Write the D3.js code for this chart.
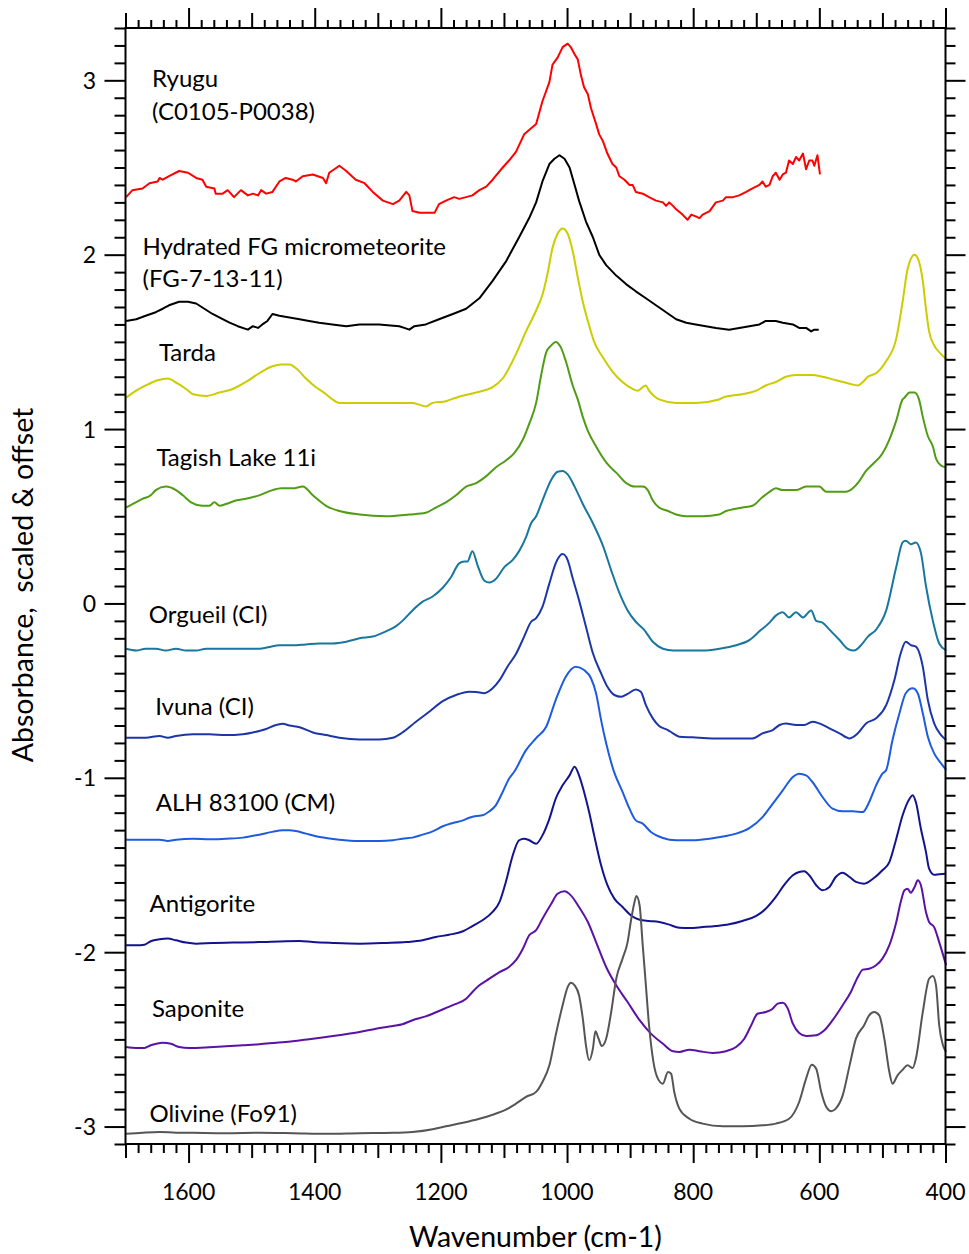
<!DOCTYPE html>
<html><head><meta charset="utf-8">
<script src="https://cdn.jsdelivr.net/npm/d3@7"></script>
<style>
html,body{margin:0;padding:0;background:#fff;}
svg text{font-family:Lato,"Noto Sans",sans-serif;fill:#000;}
</style></head>
<body><svg id="c" width="969" height="1254"></svg>
<script>
// ---- data: [wavenumber (cm-1), absorbance scaled & offset] ----
const ryugu = [[1699,2.33],[1689,2.37],[1673,2.38],[1662,2.41],[1649,2.42],[1646,2.44],[1641,2.43],[1631,2.45],[1615,2.48],[1601,2.47],[1588,2.44],[1578,2.43],[1572,2.39],[1559,2.38],[1557,2.35],[1546,2.35],[1538,2.37],[1528,2.33],[1517,2.37],[1506,2.34],[1498,2.35],[1490,2.34],[1485,2.37],[1477,2.35],[1467,2.36],[1456,2.42],[1446,2.44],[1435,2.43],[1430,2.42],[1419,2.45],[1403,2.46],[1395,2.45],[1387,2.44],[1382,2.41],[1377,2.47],[1361,2.51],[1350,2.48],[1335,2.43],[1321,2.41],[1308,2.36],[1292,2.31],[1276,2.29],[1266,2.31],[1255,2.36],[1250,2.34],[1245,2.25],[1234,2.24],[1224,2.24],[1210,2.24],[1203,2.29],[1192,2.31],[1179,2.33],[1171,2.32],[1160,2.33],[1150,2.34],[1139,2.37],[1128,2.39],[1118,2.43],[1102,2.50],[1092,2.54],[1081,2.59],[1068,2.69],[1049,2.75],[1039,2.88],[1028,2.99],[1023,3.09],[1015,3.13],[1007,3.19],[999,3.21],[994,3.19],[988,3.15],[983,3.12],[978,3.03],[973,2.96],[967,2.92],[962,2.84],[954,2.75],[949,2.69],[943,2.65],[936,2.58],[928,2.52],[922,2.50],[917,2.45],[909,2.43],[901,2.40],[896,2.40],[891,2.36],[880,2.35],[870,2.33],[859,2.31],[848,2.30],[843,2.28],[838,2.30],[832,2.28],[827,2.26],[817,2.23],[809,2.20],[803,2.23],[796,2.22],[790,2.21],[785,2.23],[774,2.25],[764,2.30],[753,2.31],[748,2.33],[737,2.33],[727,2.34],[716,2.36],[706,2.38],[695,2.40],[690,2.42],[685,2.39],[679,2.40],[674,2.45],[669,2.47],[663,2.43],[658,2.46],[653,2.47],[648,2.54],[642,2.52],[637,2.56],[632,2.54],[626,2.58],[621,2.49],[616,2.54],[611,2.54],[608,2.51],[603,2.57],[599,2.46]];
const fgMicrometeorite = [[1699,1.62],[1683,1.63],[1668,1.65],[1652,1.67],[1641,1.69],[1631,1.71],[1615,1.73],[1601,1.73],[1588,1.72],[1575,1.69],[1562,1.66],[1546,1.63],[1535,1.61],[1522,1.59],[1506,1.57],[1498,1.59],[1490,1.58],[1483,1.60],[1475,1.62],[1467,1.66],[1456,1.65],[1440,1.64],[1424,1.63],[1409,1.62],[1393,1.61],[1372,1.60],[1350,1.59],[1329,1.60],[1298,1.60],[1266,1.59],[1258,1.58],[1250,1.57],[1242,1.59],[1224,1.60],[1203,1.63],[1181,1.66],[1160,1.69],[1139,1.75],[1118,1.85],[1097,1.96],[1076,2.10],[1060,2.21],[1049,2.30],[1039,2.42],[1028,2.52],[1020,2.55],[1012,2.57],[1004,2.55],[996,2.50],[988,2.40],[981,2.31],[970,2.19],[959,2.10],[949,2.00],[938,1.94],[922,1.88],[906,1.83],[891,1.79],[875,1.75],[859,1.71],[843,1.67],[827,1.63],[811,1.61],[796,1.60],[780,1.59],[764,1.58],[743,1.57],[727,1.58],[711,1.59],[695,1.60],[685,1.62],[669,1.62],[658,1.61],[642,1.60],[632,1.58],[621,1.58],[613,1.56],[608,1.57],[601,1.57]];
const tarda = [[1699,1.18],[1683,1.22],[1668,1.25],[1649,1.28],[1633,1.29],[1617,1.26],[1604,1.23],[1593,1.20],[1572,1.19],[1551,1.21],[1530,1.23],[1509,1.27],[1488,1.32],[1467,1.36],[1453,1.37],[1440,1.37],[1427,1.34],[1414,1.29],[1398,1.24],[1382,1.20],[1372,1.17],[1361,1.15],[1329,1.15],[1276,1.15],[1245,1.15],[1224,1.13],[1213,1.15],[1192,1.16],[1176,1.18],[1144,1.21],[1118,1.24],[1102,1.29],[1081,1.43],[1065,1.56],[1049,1.68],[1039,1.77],[1031,1.89],[1023,2.04],[1015,2.12],[1007,2.15],[999,2.12],[991,2.02],[983,1.87],[975,1.73],[967,1.62],[957,1.50],[943,1.41],[928,1.33],[912,1.27],[896,1.23],[888,1.22],[880,1.24],[875,1.25],[870,1.22],[862,1.19],[854,1.17],[827,1.15],[796,1.15],[759,1.17],[753,1.18],[743,1.19],[722,1.20],[700,1.22],[685,1.25],[669,1.27],[653,1.30],[637,1.31],[611,1.31],[595,1.30],[574,1.28],[552,1.26],[539,1.25],[531,1.27],[523,1.30],[510,1.32],[494,1.39],[478,1.52],[468,1.73],[460,1.92],[449,2.00],[444,1.98],[436,1.85],[431,1.69],[426,1.56],[418,1.48],[407,1.43],[399,1.40]];
const tagishLake = [[1699,0.55],[1689,0.57],[1673,0.60],[1660,0.62],[1652,0.65],[1636,0.67],[1620,0.65],[1609,0.62],[1596,0.58],[1578,0.56],[1567,0.56],[1559,0.58],[1551,0.56],[1541,0.57],[1525,0.59],[1509,0.60],[1488,0.62],[1467,0.65],[1453,0.66],[1435,0.66],[1419,0.67],[1403,0.62],[1382,0.56],[1361,0.53],[1329,0.51],[1287,0.50],[1250,0.51],[1224,0.52],[1208,0.55],[1192,0.58],[1176,0.62],[1160,0.67],[1144,0.69],[1128,0.73],[1113,0.78],[1097,0.82],[1084,0.86],[1070,0.94],[1060,1.03],[1049,1.15],[1041,1.31],[1033,1.44],[1025,1.48],[1018,1.50],[1010,1.47],[1002,1.39],[991,1.25],[983,1.17],[975,1.07],[967,0.99],[954,0.90],[936,0.80],[922,0.75],[906,0.69],[893,0.67],[880,0.67],[872,0.65],[864,0.59],[854,0.55],[840,0.53],[827,0.51],[811,0.50],[785,0.50],[759,0.51],[748,0.53],[737,0.54],[722,0.55],[706,0.56],[690,0.61],[679,0.64],[669,0.66],[658,0.65],[637,0.65],[621,0.67],[611,0.67],[600,0.67],[589,0.64],[574,0.64],[558,0.64],[547,0.66],[537,0.70],[526,0.76],[515,0.80],[500,0.86],[489,0.94],[478,1.05],[468,1.17],[465,1.18],[457,1.21],[449,1.21],[442,1.17],[436,1.07],[428,0.96],[420,0.90],[415,0.83],[407,0.79],[399,0.78]];
const orgueil = [[1699,-0.26],[1683,-0.27],[1668,-0.26],[1652,-0.26],[1636,-0.27],[1620,-0.26],[1604,-0.27],[1588,-0.27],[1572,-0.26],[1557,-0.26],[1541,-0.26],[1525,-0.26],[1504,-0.26],[1488,-0.26],[1472,-0.25],[1456,-0.24],[1435,-0.24],[1414,-0.235],[1393,-0.23],[1372,-0.23],[1350,-0.22],[1329,-0.20],[1308,-0.19],[1287,-0.16],[1271,-0.13],[1261,-0.10],[1245,-0.04],[1229,0.01],[1213,0.04],[1197,0.09],[1184,0.15],[1171,0.23],[1163,0.24],[1158,0.24],[1150,0.30],[1142,0.22],[1131,0.13],[1123,0.12],[1113,0.14],[1099,0.21],[1086,0.25],[1076,0.30],[1065,0.38],[1057,0.46],[1049,0.50],[1039,0.59],[1025,0.71],[1015,0.755],[1007,0.76],[999,0.74],[988,0.67],[975,0.57],[959,0.46],[943,0.33],[930,0.19],[917,0.06],[904,-0.04],[891,-0.105],[878,-0.15],[864,-0.22],[848,-0.26],[832,-0.27],[811,-0.27],[785,-0.27],[759,-0.26],[732,-0.24],[711,-0.21],[695,-0.16],[679,-0.11],[669,-0.07],[658,-0.05],[648,-0.08],[637,-0.05],[626,-0.08],[613,-0.04],[605,-0.10],[595,-0.11],[584,-0.15],[568,-0.21],[555,-0.26],[545,-0.27],[534,-0.24],[523,-0.19],[510,-0.15],[494,-0.04],[478,0.21],[468,0.35],[463,0.36],[455,0.34],[447,0.35],[439,0.29],[431,0.10],[420,-0.10],[410,-0.23],[399,-0.27]];
const ivuna = [[1699,-0.77],[1683,-0.77],[1668,-0.77],[1646,-0.76],[1633,-0.77],[1620,-0.76],[1593,-0.75],[1567,-0.75],[1541,-0.755],[1514,-0.75],[1498,-0.74],[1477,-0.72],[1464,-0.70],[1451,-0.69],[1440,-0.70],[1424,-0.71],[1403,-0.74],[1382,-0.755],[1361,-0.77],[1329,-0.78],[1298,-0.78],[1276,-0.77],[1261,-0.74],[1240,-0.68],[1218,-0.62],[1197,-0.56],[1176,-0.525],[1155,-0.506],[1144,-0.508],[1131,-0.515],[1118,-0.487],[1107,-0.44],[1094,-0.36],[1081,-0.29],[1068,-0.19],[1057,-0.105],[1049,-0.084],[1039,-0.02],[1028,0.115],[1018,0.23],[1007,0.283],[999,0.249],[991,0.144],[981,0.019],[970,-0.134],[959,-0.286],[946,-0.401],[936,-0.478],[925,-0.525],[914,-0.535],[904,-0.519],[891,-0.493],[883,-0.506],[875,-0.583],[864,-0.659],[854,-0.703],[840,-0.726],[832,-0.745],[822,-0.764],[801,-0.768],[769,-0.774],[732,-0.774],[706,-0.774],[690,-0.745],[674,-0.726],[663,-0.697],[653,-0.688],[637,-0.697],[624,-0.697],[611,-0.678],[600,-0.688],[584,-0.716],[568,-0.745],[552,-0.774],[539,-0.745],[526,-0.688],[510,-0.659],[494,-0.583],[481,-0.439],[471,-0.286],[463,-0.220],[455,-0.239],[447,-0.248],[436,-0.363],[428,-0.554],[418,-0.688],[407,-0.755],[399,-0.783]];
const alh83100 = [[1699,-1.355],[1683,-1.355],[1668,-1.355],[1646,-1.355],[1633,-1.362],[1620,-1.355],[1593,-1.349],[1567,-1.353],[1541,-1.349],[1514,-1.343],[1488,-1.326],[1467,-1.310],[1451,-1.301],[1440,-1.301],[1430,-1.305],[1414,-1.320],[1398,-1.335],[1382,-1.345],[1361,-1.355],[1329,-1.362],[1298,-1.362],[1276,-1.358],[1261,-1.349],[1245,-1.343],[1229,-1.326],[1213,-1.307],[1197,-1.278],[1181,-1.259],[1165,-1.244],[1155,-1.229],[1144,-1.219],[1134,-1.215],[1123,-1.192],[1113,-1.158],[1102,-1.081],[1092,-1.005],[1084,-0.967],[1065,-0.841],[1049,-0.772],[1033,-0.707],[1018,-0.554],[1002,-0.420],[986,-0.363],[973,-0.382],[962,-0.429],[954,-0.515],[946,-0.669],[938,-0.802],[926,-0.96],[912,-1.081],[901,-1.177],[891,-1.244],[880,-1.263],[867,-1.311],[848,-1.345],[827,-1.358],[801,-1.358],[774,-1.349],[748,-1.334],[732,-1.320],[711,-1.288],[690,-1.225],[674,-1.149],[658,-1.072],[642,-0.995],[632,-0.976],[621,-0.986],[611,-1.024],[595,-1.110],[579,-1.177],[563,-1.192],[547,-1.192],[531,-1.196],[521,-1.139],[510,-1.043],[500,-0.976],[494,-0.955],[484,-0.783],[473,-0.630],[463,-0.515],[452,-0.487],[444,-0.515],[436,-0.630],[428,-0.764],[418,-0.860],[407,-0.917],[399,-0.955]];
const antigorite = [[1699,-1.960],[1683,-1.960],[1670,-1.957],[1660,-1.937],[1646,-1.926],[1633,-1.922],[1620,-1.932],[1604,-1.945],[1588,-1.951],[1562,-1.947],[1530,-1.945],[1488,-1.942],[1446,-1.937],[1424,-1.936],[1403,-1.942],[1372,-1.947],[1329,-1.951],[1287,-1.947],[1255,-1.942],[1229,-1.932],[1208,-1.913],[1187,-1.900],[1165,-1.880],[1150,-1.850],[1134,-1.817],[1118,-1.769],[1107,-1.712],[1097,-1.597],[1086,-1.444],[1076,-1.358],[1068,-1.349],[1060,-1.358],[1049,-1.378],[1039,-1.330],[1028,-1.235],[1018,-1.120],[1007,-1.043],[996,-0.986],[988,-0.936],[981,-0.986],[973,-1.081],[965,-1.196],[957,-1.330],[946,-1.502],[936,-1.616],[925,-1.693],[912,-1.741],[899,-1.788],[885,-1.814],[870,-1.821],[854,-1.827],[838,-1.842],[822,-1.860],[806,-1.861],[785,-1.856],[764,-1.850],[743,-1.840],[722,-1.821],[700,-1.792],[685,-1.751],[669,-1.683],[656,-1.616],[642,-1.559],[632,-1.540],[624,-1.536],[616,-1.559],[605,-1.616],[595,-1.645],[584,-1.626],[574,-1.569],[563,-1.544],[552,-1.569],[542,-1.597],[529,-1.607],[515,-1.579],[500,-1.530],[489,-1.483],[478,-1.349],[468,-1.215],[457,-1.120],[452,-1.100],[447,-1.139],[439,-1.292],[431,-1.425],[426,-1.521],[418,-1.556],[410,-1.553],[399,-1.550]];
const saponite = [[1699,-2.544],[1683,-2.549],[1670,-2.549],[1660,-2.534],[1641,-2.519],[1628,-2.525],[1615,-2.544],[1599,-2.549],[1567,-2.545],[1541,-2.540],[1514,-2.534],[1488,-2.528],[1461,-2.519],[1435,-2.511],[1409,-2.499],[1382,-2.486],[1356,-2.473],[1329,-2.458],[1303,-2.439],[1276,-2.423],[1261,-2.413],[1245,-2.390],[1224,-2.368],[1203,-2.337],[1181,-2.304],[1160,-2.267],[1150,-2.228],[1139,-2.190],[1123,-2.152],[1107,-2.114],[1092,-2.085],[1081,-2.046],[1070,-1.980],[1060,-1.903],[1049,-1.874],[1039,-1.808],[1025,-1.722],[1015,-1.665],[1004,-1.651],[994,-1.674],[981,-1.741],[967,-1.827],[954,-1.942],[938,-2.085],[922,-2.190],[904,-2.286],[885,-2.390],[867,-2.467],[848,-2.525],[832,-2.568],[822,-2.572],[806,-2.559],[790,-2.568],[769,-2.578],[748,-2.568],[732,-2.544],[719,-2.496],[708,-2.419],[698,-2.353],[685,-2.343],[674,-2.324],[666,-2.295],[658,-2.290],[650,-2.324],[642,-2.410],[632,-2.463],[621,-2.480],[605,-2.476],[592,-2.448],[579,-2.390],[563,-2.304],[550,-2.228],[539,-2.142],[531,-2.100],[521,-2.095],[510,-2.075],[500,-2.037],[489,-1.960],[478,-1.827],[471,-1.712],[465,-1.645],[460,-1.636],[455,-1.659],[449,-1.626],[444,-1.588],[439,-1.616],[431,-1.770],[426,-1.827],[418,-1.856],[410,-1.942],[399,-2.075]];
const olivine = [[1699,-3.041],[1673,-3.035],[1646,-3.031],[1620,-3.035],[1593,-3.036],[1541,-3.038],[1488,-3.036],[1435,-3.038],[1382,-3.041],[1329,-3.038],[1276,-3.036],[1245,-3.031],[1213,-3.015],[1192,-2.998],[1165,-2.978],[1139,-2.955],[1118,-2.932],[1097,-2.903],[1081,-2.869],[1065,-2.830],[1049,-2.801],[1039,-2.744],[1028,-2.649],[1018,-2.476],[1007,-2.304],[999,-2.200],[994,-2.175],[988,-2.190],[981,-2.247],[975,-2.381],[970,-2.534],[965,-2.620],[959,-2.553],[955,-2.454],[950,-2.496],[945,-2.538],[938,-2.496],[930,-2.343],[922,-2.152],[912,-2.037],[904,-1.942],[899,-1.827],[893,-1.712],[890,-1.678],[885,-1.731],[880,-1.960],[875,-2.190],[870,-2.419],[863,-2.630],[856,-2.725],[848,-2.754],[840,-2.687],[835,-2.697],[830,-2.802],[822,-2.897],[806,-2.955],[785,-2.983],[753,-2.998],[722,-2.998],[690,-2.993],[669,-2.983],[648,-2.955],[632,-2.859],[621,-2.725],[612,-2.645],[605,-2.668],[597,-2.802],[589,-2.888],[581,-2.912],[574,-2.897],[563,-2.821],[552,-2.649],[542,-2.496],[529,-2.419],[521,-2.362],[513,-2.343],[505,-2.362],[497,-2.496],[489,-2.687],[484,-2.754],[476,-2.706],[468,-2.674],[460,-2.649],[452,-2.664],[447,-2.611],[436,-2.343],[426,-2.152],[420,-2.136],[415,-2.190],[410,-2.419],[404,-2.534],[399,-2.572]];

const seriesData = [ryugu, fgMicrometeorite, tarda, tagishLake, orgueil, ivuna, alh83100, antigorite, saponite, olivine];
const seriesColors = ["#ff0000","#000000","#cccc00","#519c15","#17779f","#1c36aa","#1d5ce0","#131390","#5a12a6","#555555"];
const seriesNoisy = [true,true,false,false,false,false,false,false,false,false];
const labelLines = [
  ["Ryugu","(C0105-P0038)"],
  ["Hydrated FG micrometeorite","(FG-7-13-11)"],
  ["Tarda"],["Tagish Lake 11i"],["Orgueil (CI)"],["Ivuna (CI)"],
  ["ALH 83100 (CM)"],["Antigorite"],["Saponite"],["Olivine (Fo91)"]
];
const labelY = [2.96, 2.0, 1.39, 0.79, -0.11, -0.64, -1.19, -1.77, -2.37, -2.975];
const labelX = [1658, 1673, 1647, 1651, 1663, 1653, 1652, 1662, 1658, 1662];
const xTickLabels = [1600,1400,1200,1000,800,600,400];
const yTickLabels = [3,2,1,0,-1,-2,-3];
const xDomain = [1700,400], yDomain = [-3.1,3.3];

// ---- drawing ----
const svg = d3.select("#c");
const L=125.5, R=945.5, T=28, B=1144;
const x = d3.scaleLinear().domain(xDomain).range([L,R]);
const y = d3.scaleLinear().domain(yDomain).range([B,T]);

seriesData.forEach((d,i)=>{
  const line = d3.line().x(p=>x(p[0])).y(p=>y(p[1]))
    .curve(seriesNoisy[i] ? d3.curveLinear : d3.curveMonotoneX);
  svg.append("path").attr("d", line(d)).attr("fill","none")
    .attr("stroke", seriesColors[i]).attr("stroke-width", 2)
    .attr("stroke-linejoin","round");
});

svg.append("rect").attr("x",L).attr("y",T).attr("width",R-L).attr("height",B-T)
  .attr("fill","none").attr("stroke","#000").attr("stroke-width",2);

const minorX = d3.range(1700,399,-20).filter(v=>v%100!==0);
const medX = d3.range(1700,399,-100).filter(v=>v%200!==0);
const majX = d3.range(1600,399,-200);
const minorY = d3.range(-31,34).map(v=>v/10).filter(v=>Math.abs(v-Math.round(v))>1e-6);
const majY = yTickLabels;

function ax(gen, tv, size, tr){
  const g = svg.append("g").attr("transform", tr)
    .call(gen.tickValues(tv).tickSize(size).tickSizeOuter(0).tickFormat(""));
  g.select(".domain").remove();
  g.selectAll(".tick line").attr("stroke","#000").attr("stroke-width",2);
  return g;
}
ax(d3.axisBottom(x), minorX, 9, `translate(0,${B})`);
ax(d3.axisBottom(x), medX, 14, `translate(0,${B})`);
ax(d3.axisBottom(x), majX, 19, `translate(0,${B})`);
ax(d3.axisTop(x), minorX, 8, `translate(0,${T})`);
ax(d3.axisTop(x), medX, 15, `translate(0,${T})`);
ax(d3.axisTop(x), majX, 20, `translate(0,${T})`);
ax(d3.axisLeft(y), minorY, 11, `translate(${L},0)`);
ax(d3.axisLeft(y), majY, 21, `translate(${L},0)`);
ax(d3.axisRight(y), minorY, 10, `translate(${R},0)`);
ax(d3.axisRight(y), majY, 20, `translate(${R},0)`);

svg.append("g").selectAll("text").data(xTickLabels).join("text")
  .attr("x", d=>x(d)).attr("y", 1200).attr("text-anchor","middle")
  .attr("font-size",23).text(d=>d);
svg.append("g").selectAll("text").data(yTickLabels).join("text")
  .attr("x", 96).attr("y", d=>y(d)+8.5).attr("text-anchor","end")
  .attr("font-size",23).text(d=>d);

svg.append("text").attr("x",535.5).attr("y",1247).attr("text-anchor","middle")
  .attr("font-size",28.5).text("Wavenumber (cm-1)");
svg.append("text").attr("transform","translate(33,585) rotate(-90)")
  .attr("text-anchor","middle").attr("font-size",28.5)
  .style("white-space","pre").text("Absorbance,  scaled & offset");

labelLines.forEach((lines,i)=>{
  lines.forEach((t,j)=>{
    svg.append("text").attr("x", x(labelX[i])).attr("y", y(labelY[i]) + j*32.5)
      .attr("font-size",24).text(t);
  });
});
</script></body></html>
